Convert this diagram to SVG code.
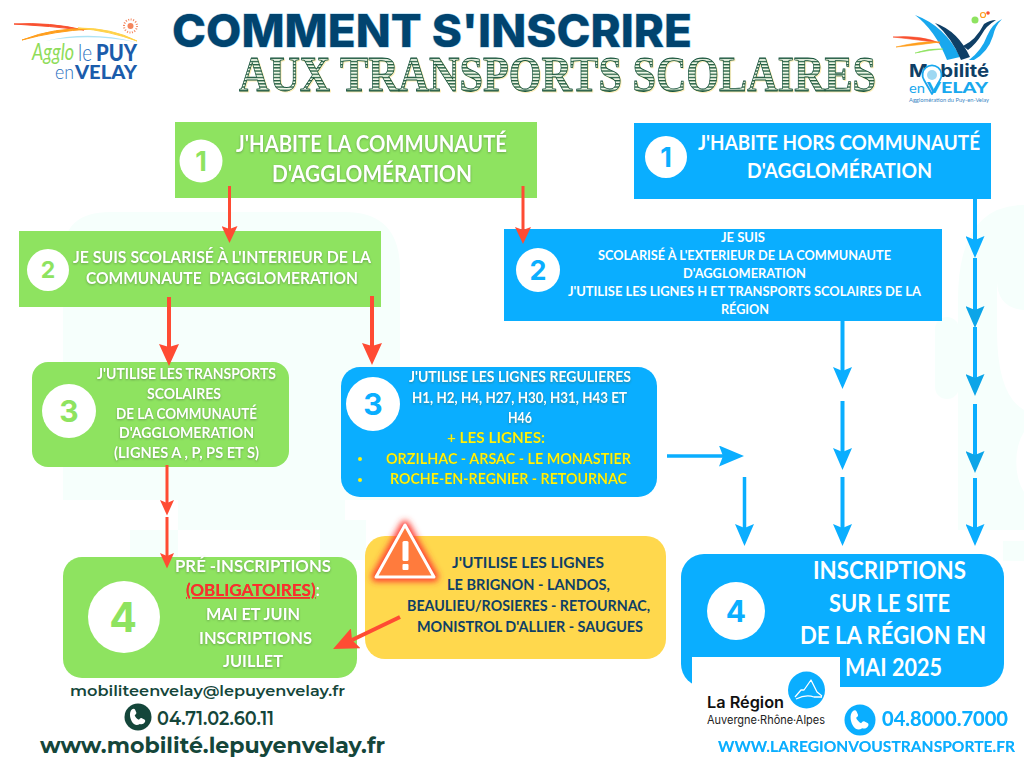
<svg xmlns="http://www.w3.org/2000/svg" width="1024" height="768" viewBox="0 0 1024 768">
<defs>
<style>
text{font-family:"Lato","Liberation Sans",sans-serif;font-weight:700}
.g{fill:#8ee360}.b{fill:#0aaeff}
.w{fill:#fff;filter:drop-shadow(.7px 1px .8px rgba(60,90,50,.45))}
.wb{fill:#fff}
.y{fill:#fdf30e;filter:drop-shadow(.6px .8px .6px rgba(0,60,110,.5))}
.n{fill:#0f3f66}
.c{fill:#fff}
.d{font-family:"Inter","Liberation Sans",sans-serif;text-anchor:middle}
.dg{fill:#14463a;font-family:"Montserrat","Inter","Liberation Sans",sans-serif;font-weight:600}
.bl{fill:#0aaeff;filter:drop-shadow(.5px .5px .6px rgba(120,210,255,.8))}
.r{stroke:#ff4b33;fill:none}
.u{stroke:#0aaeff;fill:none}
.ud{stroke:#0aaeff;fill:none}
.wm{fill:#f6fffc}
</style>
<pattern id="hatch" width="4" height="3.2" patternUnits="userSpaceOnUse">
<rect width="4" height="3.2" fill="#eff7e6"/>
<rect width="4" height="1.300" fill="#1f5c3e"/>
</pattern>
<filter id="glow" x="-40%" y="-40%" width="180%" height="180%"><feGaussianBlur stdDeviation="3"/></filter>
<marker id="ms" markerUnits="userSpaceOnUse" markerWidth="18" markerHeight="16" viewBox="0 0 18 16" refX="3" refY="8" orient="auto"><path d="M0 0L17 8L0 16L3 8Z" fill="#ff4b33"/></marker>
<marker id="ml" markerUnits="userSpaceOnUse" markerWidth="23" markerHeight="20" viewBox="0 0 23 20" refX="3" refY="10" orient="auto"><path d="M0 0L22 10L0 20L3 10Z" fill="#ff4b33"/></marker>
<marker id="mt" markerUnits="userSpaceOnUse" markerWidth="16" markerHeight="14" viewBox="0 0 16 14" refX="3" refY="7" orient="auto"><path d="M0 0L15.500 7L0 14L3 7Z" fill="#ff4b33"/></marker>
<marker id="md" markerUnits="userSpaceOnUse" markerWidth="26" markerHeight="22" viewBox="0 0 26 22" refX="4" refY="11" orient="auto"><path d="M0 0L25 11L0 22L4 11Z" fill="#ff4b33"/></marker>
<marker id="mb" markerUnits="userSpaceOnUse" markerWidth="23" markerHeight="19" viewBox="0 0 23 19" refX="4" refY="9.500" orient="auto"><path d="M0 0L22 9.500L0 19L4 9.500Z" fill="#0aaeff"/></marker>
<marker id="mk" markerUnits="userSpaceOnUse" markerWidth="23" markerHeight="19" viewBox="0 0 23 19" refX="4" refY="9.500" orient="auto"><path d="M0 0L22 9.500L0 19L4 9.500Z" fill="#0ca5e8"/></marker>
<marker id="mh" markerUnits="userSpaceOnUse" markerWidth="26" markerHeight="21" viewBox="0 0 26 21" refX="4" refY="10.500" orient="auto"><path d="M0 0L25 10.500L0 21L4 10.500Z" fill="#0aaeff"/></marker>
<path id="phone" d="M-7-9c1.500-1 3-.8 3.600.5l1.300 3c.4 1 .1 1.800-.8 2.500l-1 .8c.9 2.300 2.600 4.200 5 5.400l1-1.200c.7-.8 1.600-1 2.500-.6l2.900 1.500c1.200.6 1.300 2 .5 3.300-1.300 2-3.400 2.800-5.800 2C-3.500 11.800-8 6.800-9.300-.5-9.800-4.200-9-7.400-7-9Z" fill="#fff"/>
</defs>

<rect width="1024" height="768" fill="#fff"/>

<g id="watermark">
<path class="wm" d="M63 530V255Q63 212 110 212H345Q400 212 400 270V500H345V530H178V500H63Z"/>
<rect class="wm" x="130" y="530" width="48" height="30"/>
<rect class="wm" x="320" y="520" width="46" height="40"/>
<path class="wm" d="M958 300Q958 205 1024 205V310Q997 308 997 280V330Q997 395 1024 410V432A20 38 0 0 0 1024 492V530H958Z"/>
<rect class="wm" x="935" y="317" width="24" height="82" rx="12"/>
<rect class="wm" x="1003" y="541" width="21" height="20"/>
</g>

<g id="logo-agglo">
<path d="M14 24Q50 22 84 30Q50 26 14 24Z" fill="#f9502f" stroke="#f9502f"/>
<path d="M22 40Q55 27 90 29Q55 31 22 40Z" fill="#ff9e1c" stroke="#ff9e1c"/>
<path d="M78 28Q112 28 137 41Q110 31 78 28Z" fill="#ffd24a" stroke="#ffd24a"/>
<path d="M45 41Q90 30 135 42Q90 33 45 41Z" fill="#aee3f5"/>
<circle cx="130.500" cy="26" r="6.500" fill="none" stroke="#f4855c" stroke-width="2" stroke-dasharray="1 1.500"/>
<circle cx="130.500" cy="26" r="3" fill="#f4855c"/>
<text x="32" y="60" font-size="24" textLength="42" lengthAdjust="spacingAndGlyphs" fill="#8fdc5a" style="font-style:italic;font-weight:400">Agglo</text>
<text x="78" y="61" font-size="23" textLength="14" lengthAdjust="spacingAndGlyphs" fill="#2a6fc0" style="font-weight:300">le</text>
<text x="96" y="61" font-size="22" textLength="41" lengthAdjust="spacingAndGlyphs" fill="#1b5cab" style="font-weight:900">PUY</text>
<text x="55" y="79" font-size="19" textLength="19" lengthAdjust="spacingAndGlyphs" fill="#2a6fc0" style="font-weight:300">en</text>
<text x="75" y="79" font-size="19" textLength="62" lengthAdjust="spacingAndGlyphs" fill="#1b5cab" style="font-weight:900">VELAY</text>
</g>

<g id="title">
<text x="172" y="47" font-size="45" textLength="520" lengthAdjust="spacingAndGlyphs" fill="#01446f" stroke="#a6d4ee" stroke-width="1" paint-order="stroke" style="font-family:Inter,'Liberation Sans',sans-serif;font-weight:800">COMMENT S'INSCRIRE</text>
<text x="239" y="90.500" font-size="50" textLength="637" lengthAdjust="spacingAndGlyphs" fill="url(#hatch)" stroke="#14503a" stroke-width=".8" style="font-family:'Liberation Serif',serif;font-weight:700;filter:drop-shadow(1.500px 1.500px 0 #fdeeb8)">AUX TRANSPORTS SCOLAIRES</text>
</g>

<g id="logo-mobilite">
<path d="M915 15Q945 26 960 57L947 60Q935 30 915 15Z" fill="#18a8ee"/>
<path d="M935 23Q958 31 970 57L961 60Q952 38 935 23Z" fill="#0f3f66"/>
<path d="M963 46Q976 40 984 24Q990 20 996 20Q986 26 982 34Q976 44 968 50Z" fill="#0f3f66"/>
<path d="M969 60Q982 50 987 36Q992 24 1002 19Q995 26 993 36Q988 52 974 60Z" fill="#18a8ee"/>
<path d="M893 37Q920 35 940 43Q920 40 893 37Z" fill="#f9502f" stroke="#f9502f" stroke-width=".6"/>
<path d="M896 47Q920 41 940 42Q920 45 896 47Z" fill="#ff9e1c" stroke="#ff9e1c" stroke-width=".6"/>
<path d="M915 53Q930 48 943 49Q930 50 915 53Z" fill="#8ee360" stroke="#8ee360" stroke-width=".6"/>
<circle cx="975" cy="20" r="3.500" fill="#8ee360"/>
<circle cx="983" cy="15" r="2.500" fill="none" stroke="#ff9e1c" stroke-width="1.200"/>
<circle cx="988" cy="13" r="1.800" fill="#f9502f"/>
<text x="909" y="77" font-size="18" textLength="80" lengthAdjust="spacingAndGlyphs" fill="#0f3f66" style="font-family:Inter,'Liberation Sans',sans-serif;font-weight:700">Mobilité</text>
<path d="M932 94L924 80A9.500 9.500 0 1 1 940 80Z" fill="#fff" stroke="#18a8ee" stroke-width="1.800" stroke-linejoin="round"/>
<circle cx="932" cy="75" r="5" fill="#9ed8f2"/>
<text x="909" y="93" font-size="14" textLength="16" lengthAdjust="spacingAndGlyphs" fill="#18a8ee" style="font-weight:400">en</text>
<text x="927" y="93" font-size="15" textLength="61" lengthAdjust="spacingAndGlyphs" fill="#18a8ee" style="font-weight:900">VELAY</text>
<text x="909" y="102" font-size="5" textLength="80" lengthAdjust="spacingAndGlyphs" fill="#3a86c4" style="font-weight:400">Agglomération du Puy-en-Velay</text>
</g>

<g id="node-green-1">
<rect class="g" x="175" y="122" width="362" height="76"/>
<circle class="c" cx="201" cy="161" r="21.500"/>
<text class="d g" x="201" y="171" font-size="27">1</text>
<text class="w" x="236" y="152" font-size="22" textLength="271" lengthAdjust="spacingAndGlyphs">J'HABITE LA COMMUNAUTÉ</text>
<text class="w" x="272" y="182" font-size="22" textLength="200" lengthAdjust="spacingAndGlyphs">D'AGGLOMÉRATION</text>
</g>

<g id="node-green-2">
<rect class="g" x="19" y="231" width="362" height="76"/>
<circle class="c" cx="48" cy="270" r="21"/>
<text class="d g" x="48" y="278" font-size="23">2</text>
<text class="w" x="73" y="263" font-size="17" textLength="298" lengthAdjust="spacingAndGlyphs">JE SUIS SCOLARISÉ À L'INTERIEUR DE LA</text>
<text class="w" x="86" y="284" font-size="17" textLength="272" lengthAdjust="spacingAndGlyphs" xml:space="preserve">COMMUNAUTE  D'AGGLOMERATION</text>
</g>

<g id="node-green-3">
<rect class="g" x="32" y="362" width="257" height="105" rx="16"/>
<circle class="c" cx="69" cy="411" r="27"/>
<text class="d g" x="69" y="422" font-size="30">3</text>
<text class="w" x="97" y="379" font-size="15" textLength="179" lengthAdjust="spacingAndGlyphs">J'UTILISE LES TRANSPORTS</text>
<text class="w" x="147" y="399" font-size="15" textLength="74" lengthAdjust="spacingAndGlyphs">SCOLAIRES</text>
<text class="w" x="116" y="419" font-size="15" textLength="141" lengthAdjust="spacingAndGlyphs">DE LA COMMUNAUTÉ</text>
<text class="w" x="119" y="438" font-size="15" textLength="135" lengthAdjust="spacingAndGlyphs">D'AGGLOMERATION</text>
<text class="w" x="114" y="458" font-size="15" textLength="145" lengthAdjust="spacingAndGlyphs">(LIGNES A , P, PS ET S)</text>
</g>

<g id="node-blue-3">
<rect class="b" x="341" y="367" width="316" height="130" rx="19"/>
<circle class="c" cx="373" cy="404" r="27"/>
<text class="d b" x="373" y="415" font-size="30">3</text>
<text class="w" x="409" y="382" font-size="15" textLength="222" lengthAdjust="spacingAndGlyphs">J'UTILISE LES LIGNES REGULIERES</text>
<text class="w" x="412" y="403" font-size="15" textLength="215" lengthAdjust="spacingAndGlyphs">H1, H2, H4, H27, H30, H31, H43 ET</text>
<text class="w" x="508" y="423" font-size="15" textLength="24" lengthAdjust="spacingAndGlyphs">H46</text>
<text class="y" x="447" y="443" font-size="15" textLength="98" lengthAdjust="spacingAndGlyphs">+ LES LIGNES:</text>
<circle cx="360" cy="459" r="2" fill="#fdf30e"/>
<text class="y" x="386" y="464" font-size="15" textLength="245" lengthAdjust="spacingAndGlyphs">ORZILHAC - ARSAC - LE MONASTIER</text>
<circle cx="360" cy="480" r="2" fill="#fdf30e"/>
<text class="y" x="390" y="484" font-size="15" textLength="237" lengthAdjust="spacingAndGlyphs">ROCHE-EN-REGNIER - RETOURNAC</text>
</g>

<g id="node-yellow">
<rect x="365" y="536" width="301" height="123" rx="20" fill="#ffd84d"/>
<text class="n" x="452" y="568" font-size="16" textLength="152" lengthAdjust="spacingAndGlyphs">J'UTILISE LES LIGNES</text>
<text class="n" x="447" y="590" font-size="15" textLength="163" lengthAdjust="spacingAndGlyphs">LE BRIGNON - LANDOS,</text>
<text class="n" x="407" y="611" font-size="15" textLength="243" lengthAdjust="spacingAndGlyphs">BEAULIEU/ROSIERES - RETOURNAC,</text>
<text class="n" x="417" y="632" font-size="15" textLength="226" lengthAdjust="spacingAndGlyphs">MONISTROL D'ALLIER - SAUGUES</text>
<g id="warning">
<path d="M405 525L376 577H434Z" fill="#ff3b30" stroke="#ff3b30" stroke-width="9" stroke-linejoin="round" filter="url(#glow)"/>
<path d="M405 525L376 577H434Z" fill="#ff7b3d" stroke="#fff" stroke-width="3" stroke-linejoin="round"/>
<rect x="402.500" y="541" width="6" height="20" rx="1.500" fill="#fff"/>
<rect x="402.500" y="564" width="6" height="6" rx="1" fill="#fff"/>
</g>
</g>

<g id="node-green-4">
<rect class="g" x="63" y="557" width="294" height="121" rx="19"/>
<circle class="c" cx="124" cy="617" r="36"/>
<text class="d g" x="123" y="632" font-size="41">4</text>
<text class="w" x="175" y="572" font-size="17" textLength="156" lengthAdjust="spacingAndGlyphs">PRÉ -INSCRIPTIONS</text>
<text x="186" y="596" font-size="17" textLength="134" lengthAdjust="spacingAndGlyphs" fill="#fff" style="filter:drop-shadow(.6px .8px .6px rgba(150,40,40,.6))"><tspan fill="#ff2d2d" text-decoration="underline">(OBLIGATOIRES)</tspan>:</text>
<text class="w" x="206" y="620" font-size="17" textLength="94" lengthAdjust="spacingAndGlyphs">MAI ET JUIN</text>
<text class="w" x="199" y="644" font-size="17" textLength="113" lengthAdjust="spacingAndGlyphs">INSCRIPTIONS</text>
<text class="w" x="223" y="667" font-size="17" textLength="60" lengthAdjust="spacingAndGlyphs">JUILLET</text>
</g>

<g id="node-blue-4">
<rect class="b" x="681" y="554" width="323" height="133" rx="23"/>
<path d="M692 657H840V690H692Z" fill="#fff"/>
<circle class="c" cx="736" cy="611" r="29"/>
<text class="d b" x="736" y="622" font-size="30">4</text>
<text class="wb" x="813" y="579" font-size="24" textLength="153" lengthAdjust="spacingAndGlyphs">INSCRIPTIONS</text>
<text class="wb" x="829" y="612" font-size="24" textLength="121" lengthAdjust="spacingAndGlyphs">SUR LE SITE</text>
<text class="wb" x="800" y="644" font-size="24" textLength="186" lengthAdjust="spacingAndGlyphs">DE LA RÉGION EN</text>
<text class="wb" x="845" y="676" font-size="24" textLength="97" lengthAdjust="spacingAndGlyphs">MAI 2025</text>
</g>

<g id="node-blue-1">
<rect class="b" x="634" y="123" width="357" height="76"/>
<circle class="c" cx="666" cy="157" r="21"/>
<text class="d b" x="666" y="167" font-size="27">1</text>
<text class="wb" x="698" y="150" font-size="21" textLength="282" lengthAdjust="spacingAndGlyphs">J'HABITE HORS COMMUNAUTÉ</text>
<text class="wb" x="747" y="178" font-size="21" textLength="185" lengthAdjust="spacingAndGlyphs">D'AGGLOMÉRATION</text>
</g>

<g id="node-blue-2">
<rect class="b" x="504" y="229" width="438" height="92"/>
<circle class="c" cx="538" cy="270" r="22"/>
<text class="d b" x="538" y="280" font-size="27">2</text>
<text class="wb" x="721" y="242" font-size="14" textLength="44" lengthAdjust="spacingAndGlyphs">JE SUIS</text>
<text class="wb" x="598" y="260" font-size="14" textLength="293" lengthAdjust="spacingAndGlyphs">SCOLARISÉ À L'EXTERIEUR DE LA COMMUNAUTE</text>
<text class="wb" x="683" y="278" font-size="14" textLength="123" lengthAdjust="spacingAndGlyphs">D'AGGLOMERATION</text>
<text class="wb" x="568" y="296" font-size="14" textLength="353" lengthAdjust="spacingAndGlyphs">J'UTILISE LES LIGNES H ET TRANSPORTS SCOLAIRES DE LA</text>
<text class="wb" x="721" y="314" font-size="14" textLength="48" lengthAdjust="spacingAndGlyphs">RÉGION</text>
</g>

<g id="connectors">
<line class="r" stroke-width="3" x1="229.500" y1="186" x2="229.500" y2="229" marker-end="url(#ms)"/>
<line class="r" stroke-width="3" x1="523" y1="186" x2="523" y2="230" marker-end="url(#ms)"/>
<line class="r" stroke-width="4" x1="169" y1="297" x2="169" y2="347" marker-end="url(#ml)"/>
<line class="r" stroke-width="4" x1="372" y1="296" x2="372" y2="346" marker-end="url(#ml)"/>
<line class="r" stroke-width="3" x1="167" y1="465" x2="167" y2="503" marker-end="url(#mt)"/>
<line class="r" stroke-width="3" x1="167" y1="517" x2="167" y2="556" marker-end="url(#mt)"/>
<line class="r" stroke-width="4" x1="400" y1="617" x2="352" y2="640" marker-end="url(#md)"/>
<line class="u" stroke-width="4" x1="975" y1="199" x2="975" y2="240" marker-end="url(#mb)"/>
<line class="ud" stroke-width="4" x1="975" y1="258" x2="975" y2="310" marker-end="url(#mk)"/>
<line class="ud" stroke-width="4" x1="975" y1="327" x2="975" y2="378" marker-end="url(#mk)"/>
<line class="ud" stroke-width="4" x1="975" y1="404" x2="975" y2="455" marker-end="url(#mk)"/>
<line class="u" stroke-width="4" x1="975" y1="478" x2="975" y2="528" marker-end="url(#mb)"/>
<line class="u" stroke-width="4" x1="842.500" y1="321" x2="842.500" y2="371" marker-end="url(#mb)"/>
<line class="u" stroke-width="4" x1="842.500" y1="401" x2="842.500" y2="452" marker-end="url(#mb)"/>
<line class="u" stroke-width="4" x1="842.500" y1="477" x2="842.500" y2="528" marker-end="url(#mb)"/>
<line class="u" stroke-width="3.500" x1="744.500" y1="477" x2="744.500" y2="528" marker-end="url(#mb)"/>
<line class="u" stroke-width="3.500" x1="667" y1="456" x2="723" y2="456" marker-end="url(#mh)"/>
</g>

<g id="contact-agglo">
<text class="dg" x="70" y="696" font-size="15" textLength="275" lengthAdjust="spacingAndGlyphs">mobiliteenvelay@lepuyenvelay.fr</text>
<circle cx="138" cy="717" r="13.500" fill="#14463a"/>
<use href="#phone" transform="translate(138 717) scale(.85)"/>
<text class="dg" x="157" y="725" font-size="20" textLength="117" lengthAdjust="spacingAndGlyphs">04.71.02.60.11</text>
<text class="dg" x="40" y="753" font-size="22" textLength="345" lengthAdjust="spacingAndGlyphs" style="font-weight:700">www.mobilité.lepuyenvelay.fr</text>
</g>

<g id="logo-region">
<circle cx="806.500" cy="690" r="18.500" fill="#0aaeff"/>
<path d="M795 697L801 690H804L811 680L817 692L822 696M796 699Q806 694 814 697H822" fill="none" stroke="#fff" stroke-width="1.300" stroke-linejoin="round"/>
<text x="707" y="708" font-size="16" textLength="77" lengthAdjust="spacingAndGlyphs" fill="#111" style="font-family:Inter,'Liberation Sans',sans-serif;font-weight:600">La Région</text>
<text x="707" y="724" font-size="11.500" textLength="118" lengthAdjust="spacingAndGlyphs" fill="#222" style="font-family:Inter,'Liberation Sans',sans-serif;font-weight:400">Auvergne·Rhône·Alpes</text>
</g>

<g id="contact-region">
<circle cx="860" cy="720" r="15.500" fill="#0aaeff"/>
<use href="#phone" transform="translate(860 720)"/>
<text class="bl" x="882" y="726" font-size="21" textLength="126" lengthAdjust="spacingAndGlyphs">04.8000.7000</text>
<text class="bl" x="718" y="752" font-size="16" textLength="297" lengthAdjust="spacingAndGlyphs">WWW.LAREGIONVOUSTRANSPORTE.FR</text>
</g>
</svg>
